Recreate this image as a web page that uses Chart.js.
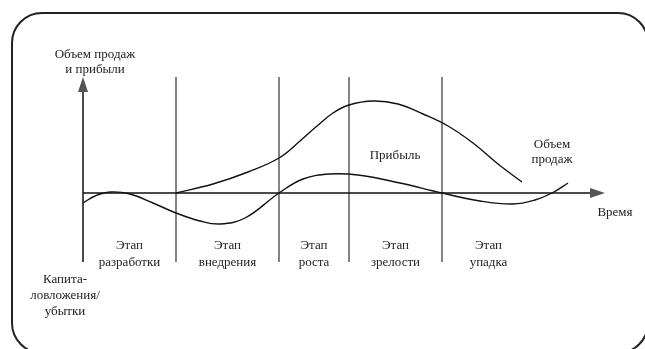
<!DOCTYPE html>
<html lang="ru">
<head>
    <meta charset="UTF-8">
    <title>Жизненный цикл товара</title>
    <script src="https://cdn.jsdelivr.net/npm/chart.js"></script>
    <style>
        body { margin: 0; background: #fff; }
        .chart-box { position: relative; width: 645px; height: 349px; }
    </style>
</head>
<body>
    <div class="chart-box">
        <canvas id="lifecycleChart"></canvas>
    </div>
    <script>
// time units along the x axis, value units along the y axis (0 = time axis)
const stageEdges = [0, 9.3, 19.6, 26.6, 35.9, 45.2];
const stageNames = [['Этап', 'разработки'], ['Этап', 'внедрения'], ['Этап', 'роста'], ['Этап', 'зрелости'], ['Этап', 'упадка']];

const salesTime  = [9.3, 13.0, 16.5, 19.6, 21.7, 23.4, 25.0, 26.6, 29.0, 31.5, 34.0, 36.5, 39.0, 41.5, 43.9];
const salesValue = [0, 0.9, 2.1, 3.5, 5.2, 6.7, 8.0, 8.8, 9.2, 8.9, 7.9, 6.7, 5.0, 2.9, 1.1];

const profitTime  = [0, 1.2, 2.7, 4.7, 7.0, 9.3, 11.7, 13.7, 16.2, 19.6, 22.0, 24.7, 27.5, 31.7, 35.9, 39.7, 43.0, 45.2, 46.9, 48.5];
const profitValue = [-1.0, -0.3, 0.1, -0.1, -1.0, -2.0, -2.8, -3.1, -2.5, 0, 1.4, 1.9, 1.8, 1.0, 0, -0.8, -1.1, -0.7, 0, 1.0];

const axisTop = 11.6;      // arrow tip of the value axis
const axisBottom = -6.9;   // lower end of the value axis and stage lines
const timeEnd = 52.2;      // arrow tip of the time axis

const serif = '13px "Liberation Serif", "DejaVu Serif", serif';

function toPoints(xs, ys) {
    return xs.map((x, i) => ({ x: x, y: ys[i] }));
}

const framePlugin = {
    id: 'frame',
    beforeDatasetsDraw(chart) {
        const ctx = chart.ctx;
        const xs = chart.scales.x, ys = chart.scales.y;
        const px = v => xs.getPixelForValue(v);
        const py = v => ys.getPixelForValue(v);

        // rounded border
        ctx.save();
        ctx.strokeStyle = '#222';
        ctx.lineWidth = 2;
        ctx.beginPath();
        ctx.roundRect(12, 13, 636, 340, 30);
        ctx.stroke();

        // stage separators
        ctx.strokeStyle = '#333';
        ctx.lineWidth = 1.2;
        stageEdges.slice(1, -1).forEach(t => {
            ctx.beginPath();
            ctx.moveTo(px(t), py(axisTop));
            ctx.lineTo(px(t), py(axisBottom));
            ctx.stroke();
        });

        // axes
        ctx.strokeStyle = '#111';
        ctx.lineWidth = 1.5;
        ctx.beginPath();
        ctx.moveTo(px(0), py(axisBottom));
        ctx.lineTo(px(0), py(axisTop) + 10);
        ctx.moveTo(px(0), py(0));
        ctx.lineTo(px(timeEnd) - 10, py(0));
        ctx.stroke();

        // arrow heads
        ctx.fillStyle = '#555';
        ctx.beginPath();
        ctx.moveTo(px(0), py(axisTop));
        ctx.lineTo(px(0) - 5, py(axisTop) + 15);
        ctx.lineTo(px(0) + 5, py(axisTop) + 15);
        ctx.closePath();
        ctx.fill();
        ctx.beginPath();
        ctx.moveTo(px(timeEnd), py(0));
        ctx.lineTo(px(timeEnd) - 15, py(0) - 5);
        ctx.lineTo(px(timeEnd) - 15, py(0) + 5);
        ctx.closePath();
        ctx.fill();
        ctx.restore();
    },
    afterDatasetsDraw(chart) {
        const ctx = chart.ctx;
        const xs = chart.scales.x, ys = chart.scales.y;
        const px = v => xs.getPixelForValue(v);
        const py = v => ys.getPixelForValue(v);

        ctx.save();
        ctx.fillStyle = '#222';
        ctx.font = serif;
        ctx.textAlign = 'center';
        ctx.textBaseline = 'middle';

        function lines(arr, x, y, step) {
            arr.forEach((s, i) => ctx.fillText(s, x, y + i * step));
        }

        for (let i = 0; i < stageNames.length; i++) {
            const mid = (stageEdges[i] + stageEdges[i + 1]) / 2;
            lines(stageNames[i], px(mid), py(axisBottom) - 16, 17);
        }
        lines(['Объем продаж', 'и прибыли'], px(0) + 12, 55, 15);
        lines(['Капита-', 'ловложения/', 'убытки'], px(0) - 18, 280, 16);
        lines(['Прибыль'], px(31.2), 156, 15);
        lines(['Объем', 'продаж'], px(46.9), 145, 15);
        lines(['Время'], px(timeEnd) + 10, py(0) + 20, 15);
        ctx.restore();
    }
};

const ctx = document.getElementById('lifecycleChart').getContext('2d');
new Chart(ctx, {
    type: 'scatter',
    data: {
        datasets: [
            {
                label: 'Объем продаж',
                data: toPoints(salesTime, salesValue),
                showLine: true,
                borderColor: '#111',
                borderWidth: 1.4,
                pointRadius: 0,
                tension: 0.4
            },
            {
                label: 'Прибыль',
                data: toPoints(profitTime, profitValue),
                showLine: true,
                borderColor: '#111',
                borderWidth: 1.4,
                pointRadius: 0,
                tension: 0.4
            }
        ]
    },
    options: {
        responsive: true,
        maintainAspectRatio: false,
        animation: false,
        layout: { padding: 0 },
        plugins: {
            legend: { display: false },
            tooltip: { enabled: false }
        },
        scales: {
            x: { type: 'linear', min: -8.3, max: 56.2, display: false },
            y: { type: 'linear', min: -15.6, max: 19.3, display: false }
        }
    },
    plugins: [framePlugin]
});
    </script>
</body>
</html>
